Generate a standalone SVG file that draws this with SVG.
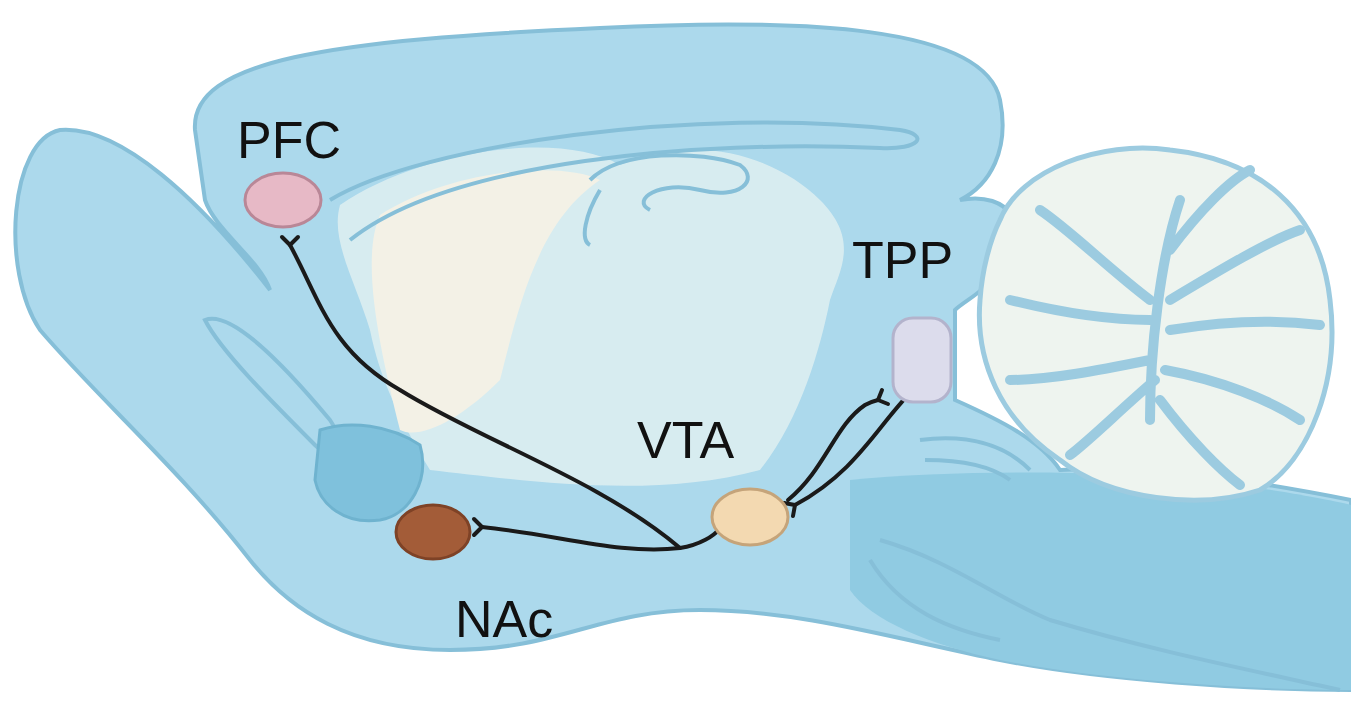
<svg xmlns="http://www.w3.org/2000/svg" width="1351" height="701" viewBox="0 0 1351 701">
<style>
.b{fill:#acd9ec;stroke:#86bfd8;stroke-width:4}
.f{fill:none;stroke:#86bfd8;stroke-width:4}
.c{fill:none;stroke:#1a1a1a;stroke-width:4;stroke-linecap:round;stroke-linejoin:round}
.t{font-family:"Liberation Sans",Arial,sans-serif;font-size:52px;fill:#111}
</style>
<rect width="1351" height="701" fill="#fff"/>
<g id="brain">
<path class="b" d="M195,130 C190,60 330,40 600,28 C800,18 985,25 1000,100 C1010,150 990,185 960,200 C1010,190 1035,230 1000,265 C990,290 965,300 955,310 L955,400 C1000,420 1040,440 1060,470 C1150,465 1250,480 1351,500 L1351,690 C1250,690 1100,680 1000,660 C900,640 800,610 700,610 C600,610 560,650 450,650 C350,650 290,610 250,560 C180,470 100,400 40,330 C0,270 10,140 60,130 C120,125 200,200 270,290 C260,260 215,230 205,200 Z"/>
<path d="M850,480 C950,470 1100,470 1200,480 C1280,490 1330,500 1351,505 L1351,690 C1250,690 1100,680 1000,660 C930,645 870,620 850,590 Z" fill="#90cbe2"/>
<path d="M340,205 C420,150 560,130 620,165 C700,130 780,160 820,200 C860,240 840,270 830,300 C820,350 800,420 760,470 C650,500 520,480 430,470 C400,420 380,380 370,330 C355,280 330,240 340,205 Z" fill="#dcedf1" opacity="0.9"/>
<path d="M380,215 C450,170 560,160 600,180 C540,220 520,300 500,380 C460,420 420,440 400,430 C380,350 360,260 380,215 Z" fill="#f3f1e6"/>
<path class="f" d="M330,200 C420,145 700,105 900,130 C930,135 920,150 880,148 C700,140 450,160 350,240"/>
<path class="f" d="M590,180 C620,150 700,150 740,165 C760,180 740,200 700,190 C660,180 630,200 650,210 M600,190 C585,215 580,240 590,245"/>
<path class="b" d="M205,320 C230,310 280,360 330,420 C350,450 330,460 315,445 C270,400 220,350 205,320 Z"/>
<path d="M320,430 C350,420 390,425 420,445 C430,480 410,515 380,520 C345,525 320,505 315,480 Z" fill="#7fc1dc" stroke="#6fb3cf" stroke-width="3"/>
<path class="f" d="M880,540 C950,560 1000,600 1050,620 C1150,650 1250,670 1340,690 M870,560 C900,610 950,630 1000,640"/>
<path class="f" d="M920,440 C960,435 1000,440 1030,470 M925,460 C960,460 990,465 1010,480"/>
</g>
<g id="cerebellum">
<path d="M1000,220 C1020,170 1100,140 1170,150 C1260,160 1320,210 1330,300 C1340,380 1310,460 1260,490 C1200,510 1110,500 1060,460 C1000,420 975,360 980,300 C982,270 990,240 1000,220 Z" fill="#eef4ef" stroke="#9ccbe0" stroke-width="5"/>
<path d="M1150,420 C1150,350 1160,260 1180,200 M1150,300 C1110,270 1070,230 1040,210 M1150,320 C1100,320 1050,310 1010,300 M1150,360 C1100,370 1050,380 1010,380 M1155,380 C1120,410 1090,440 1070,455 M1170,300 C1220,270 1270,240 1300,230 M1170,330 C1230,320 1280,320 1320,325 M1165,370 C1220,380 1270,400 1300,420 M1160,400 C1190,440 1220,470 1240,485 M1170,250 C1200,210 1230,180 1250,170" fill="none" stroke="#9ccbe0" stroke-width="10" stroke-linecap="round"/>
</g>
<g id="connectors">
<path class="c" d="M290,245 C320,300 330,350 400,390 C480,440 600,480 680,548"/>
<path class="c" d="M282,237 L290,245 L298,237"/>
<path class="c" d="M482,527 C560,535 620,555 680,548 C700,545 715,535 718,530"/>
<path class="c" d="M474,519 L482,527 L474,535"/>
<path class="c" d="M788,500 C825,470 835,425 865,405 C870,402 874,401 878,400"/>
<path class="c" d="M882,390 L878,400 L888,404"/>
<path class="c" d="M918,385 C880,420 860,470 795,505"/>
<path class="c" d="M784,503 L795,505 L793,516"/>
</g>
<g id="PFC"><ellipse cx="283" cy="200" rx="38" ry="27" fill="#e7b9c6" stroke="#b98797" stroke-width="3"/><text class="t" x="237" y="158">PFC</text></g>
<g id="NAc"><ellipse cx="433" cy="532" rx="37" ry="27" fill="#a35c38" stroke="#7e4226" stroke-width="3"/><text class="t" x="455" y="637">NAc</text></g>
<g id="VTA"><ellipse cx="750" cy="517" rx="38" ry="28" fill="#f3d9b1" stroke="#c5a47a" stroke-width="3"/><text class="t" x="637" y="458">VTA</text></g>
<g id="TPP"><rect x="893" y="318" width="58" height="84" rx="20" fill="#dcdcec" stroke="#b3b3cc" stroke-width="3"/><text class="t" x="852" y="278">TPP</text></g>
</svg>
